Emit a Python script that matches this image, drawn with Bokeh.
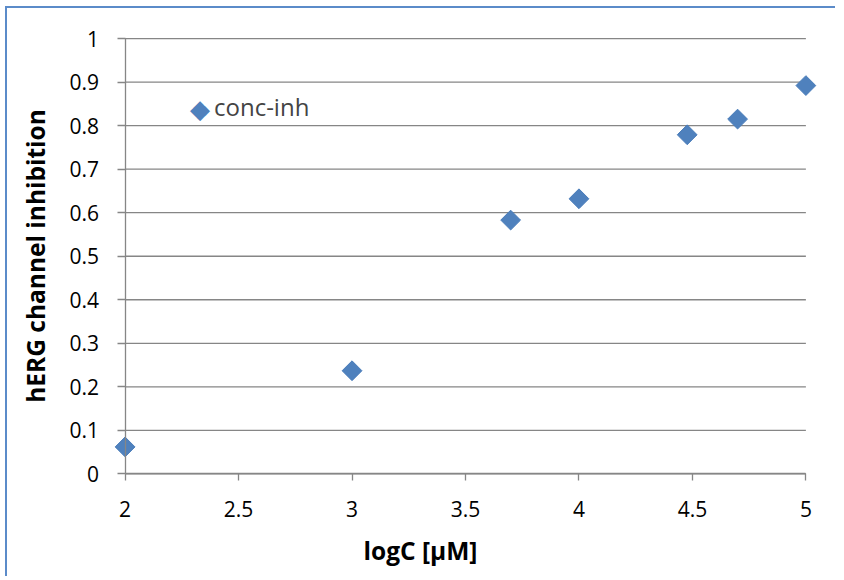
import math
from bokeh.plotting import figure
from bokeh.models import FixedTicker, Range1d, Legend, LegendItem, Title
from bokeh.embed import file_html
from bokeh.resources import INLINE

# data
log_conc = [2.0, 3.0, 3.699, 4.0, 4.477, 4.699, 5.0]
inhibition = [0.062, 0.237, 0.583, 0.632, 0.779, 0.815, 0.892]
series_name = "conc-inh"

x_ticks = [2.0, 2.5, 3.0, 3.5, 4.0, 4.5, 5.0]
x_tick_labels = ["2", "2.5", "3", "3.5", "4", "4.5", "5"]
y_ticks = [0.0, 0.1, 0.2, 0.3, 0.4, 0.5, 0.6, 0.7, 0.8, 0.9, 1.0]
y_tick_labels = ["0", "0.1", "0.2", "0.3", "0.4", "0.5", "0.6", "0.7", "0.8", "0.9", "1"]

x_title = "logC [µM]"
y_title = "hERG channel inhibition"

FONT = "Open Sans"
GRAY = "#868686"
BLUE = "#4F81BD"
EDGE = "#5B8BC9"

X_MIN, X_MAX = x_ticks[0], x_ticks[-1]
Y_MIN, Y_MAX = y_ticks[0], y_ticks[-1]

# the frame is larger than the axis extent so that the axes (fixed at x=2, y=0),
# their labels and the edge markers are all drawn unclipped
p = figure(width=830, height=570, output_backend="svg", toolbar_location=None,
           x_range=Range1d(1.517, 5.06), y_range=Range1d(-0.13, 1.03),
           min_border_left=8, min_border_right=18, min_border_top=17, min_border_bottom=48)
p.outline_line_color = None
p.background_fill_color = "white"
p.border_fill_color = "white"
# chart-area edge: only its top and left sides fall inside the window
p.styles = {"margin-left": "7px", "margin-top": "8px",
            "box-shadow": f"-2px -2px 0px 0px {EDGE}"}

# horizontal gridlines spanning the axis extent
p.segment(x0=[X_MIN] * len(y_ticks), x1=[X_MAX] * len(y_ticks), y0=y_ticks, y1=y_ticks,
          line_color=GRAY, line_width=1.3)

r = p.scatter(log_conc, inhibition, marker="square", size=14, angle=math.pi / 4,
              fill_color=BLUE, line_color="#4A7DBA", line_width=1)

# axes
p.xgrid.visible = False
p.ygrid.visible = False
p.xaxis.ticker = FixedTicker(ticks=x_ticks)
p.yaxis.ticker = FixedTicker(ticks=y_ticks)
p.xaxis.bounds = (X_MIN, X_MAX)
p.yaxis.bounds = (Y_MIN, Y_MAX)
p.yaxis.fixed_location = X_MIN
p.xaxis.fixed_location = Y_MIN
p.xaxis.major_label_overrides = {t: l for t, l in zip(x_ticks, x_tick_labels)}
p.yaxis.major_label_overrides = {t: l for t, l in zip(y_ticks, y_tick_labels)}
p.xaxis.minor_tick_line_color = None
p.yaxis.minor_tick_line_color = None
for ax in (p.xaxis[0], p.yaxis[0]):
    ax.axis_line_color = GRAY
    ax.axis_line_width = 1.3
    ax.major_tick_line_color = GRAY
    ax.major_tick_line_width = 1.3
    ax.major_tick_in = 0
    ax.major_label_text_font = FONT
    ax.major_label_text_font_size = "21px"
    ax.major_label_text_color = "black"
p.xaxis.major_tick_out = 7
p.yaxis.major_tick_out = 8
p.xaxis.major_label_standoff = 20
p.yaxis.major_label_standoff = 18

p.yaxis.axis_label = y_title
p.yaxis.axis_label_standoff = 15
p.yaxis.axis_label_text_font = FONT
p.yaxis.axis_label_text_font_size = "24.5px"
p.yaxis.axis_label_text_font_style = "bold"
p.yaxis.axis_label_text_color = "black"

# x title (off-centre like the original)
p.add_layout(Title(text=x_title, align="left", offset=348, standoff=2,
                   text_font=FONT, text_font_size="24.5px", text_font_style="bold",
                   text_color="black"), "below")

# legend
legend_proxy = p.scatter([], [], marker="square", size=1, fill_alpha=0, line_alpha=0)
legend = Legend(items=[LegendItem(label=series_name, renderers=[legend_proxy])],
                location=(139, 407), padding=10, margin=0, spacing=0,
                glyph_width=56, glyph_height=20, label_height=20, label_standoff=4,
                label_text_font=FONT, label_text_font_size="24px",
                label_text_baseline="middle",
                background_fill_color="white", background_fill_alpha=1.0,
                border_line_color=None)
p.add_layout(legend, "center")
# diamond legend symbol
legend_mark = Legend(items=[LegendItem(label="◆", renderers=[legend_proxy])],
                     location=(175, 406), padding=0, margin=0, spacing=0,
                     glyph_width=0, glyph_height=20, label_height=20, label_standoff=0,
                     label_text_font="DejaVu Sans", label_text_font_size="26px",
                     label_text_color=BLUE, label_text_baseline="middle",
                     background_fill_alpha=0, border_line_color=None)
p.add_layout(legend_mark, "center")

open("out.html", "w").write(file_html(p, INLINE))
